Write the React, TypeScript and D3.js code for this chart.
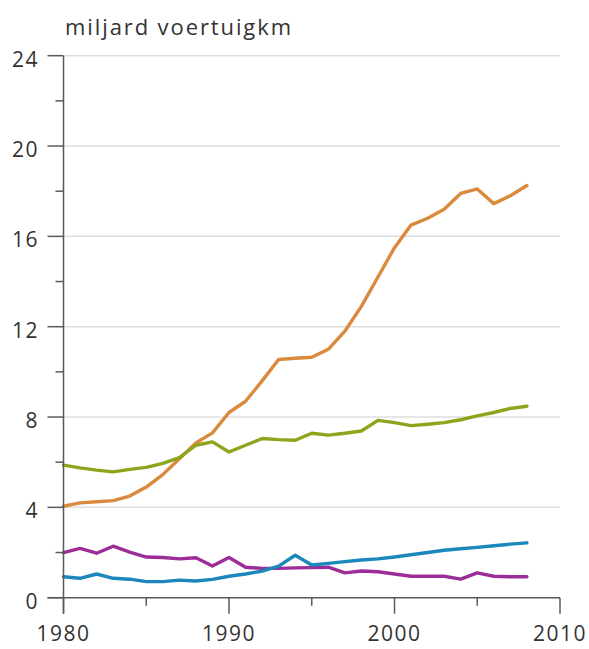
import * as d3 from 'd3';

// jaren en waarden (miljard voertuigkm)
const years = d3.range(1980, 2009);

const orangeSeries = [
  4.05, 4.2, 4.25, 4.3, 4.5, 4.9, 5.45, 6.15, 6.85, 7.3,
  8.2, 8.7, 9.6, 10.55, 10.6, 10.65, 11.0, 11.8, 12.9, 14.2,
  15.5, 16.5, 16.8, 17.2, 17.9, 18.1, 17.45, 17.8, 18.25,
];
const greenSeries = [
  5.87, 5.75, 5.65, 5.57, 5.68, 5.77, 5.95, 6.2, 6.75, 6.9,
  6.45, 6.75, 7.05, 7.0, 6.97, 7.28, 7.2, 7.28, 7.38, 7.85,
  7.75, 7.62, 7.68, 7.75, 7.88, 8.05, 8.2, 8.38, 8.48,
];
const purpleSeries = [
  2.0, 2.18, 1.97, 2.28, 2.02, 1.8, 1.78, 1.72, 1.77, 1.4,
  1.78, 1.35, 1.3, 1.3, 1.32, 1.33, 1.35, 1.1, 1.18, 1.15,
  1.05, 0.95, 0.95, 0.95, 0.82, 1.1, 0.95, 0.93, 0.93,
];
const blueSeries = [
  0.93, 0.86, 1.05, 0.86, 0.82, 0.71, 0.71, 0.78, 0.74, 0.81,
  0.95, 1.05, 1.18, 1.4, 1.88, 1.45, 1.52, 1.6, 1.67, 1.72,
  1.8, 1.9, 2.0, 2.1, 2.17, 2.23, 2.3, 2.37, 2.43,
];

const series = [
  { name: 'oranje', values: orangeSeries, color: '#d98a3c' },
  { name: 'groen', values: greenSeries, color: '#8da51c' },
  { name: 'paars', values: purpleSeries, color: '#9b2d99' },
  { name: 'blauw', values: blueSeries, color: '#1b87bd' },
];

const yTicks = [0, 4, 8, 12, 16, 20, 24];
const yMinorTicks = [2, 6, 10, 14, 18, 22];
const xTicks = [1980, 1990, 2000, 2010];
const xMinorTicks = [1985, 1995, 2005];

const W = 589;
const H = 649;
const FONT = '"Open Sans", sans-serif';

export default function App() {
  const x = d3.scaleLinear().domain([1980, 2010]).range([63.5, 560]);
  const y = d3.scaleLinear().domain([0, 24]).range([597.7, 55.7]);

  const line = d3
    .line<number>()
    .x((_, i) => x(years[i]))
    .y((d) => y(d));

  const axisColor = '#5a5a5a';

  return (
    <svg
      width={W}
      height={H}
      style={{ position: 'absolute', left: 0, top: 0, background: '#fff' }}
    >
      {/* gridlijnen */}
      {yTicks.filter((t) => t > 0).map((t) => (
        <line key={'g' + t} x1={x(1980)} x2={x(2010)} y1={y(t)} y2={y(t)}
          stroke="#dedede" strokeWidth={1.5} />
      ))}

      {/* lijnen */}
      {series.map((s) => (
        <path key={s.name} d={line(s.values) || ''} fill="none" stroke={s.color}
          strokeWidth={3.4} strokeLinejoin="round" strokeLinecap="round" />
      ))}

      {/* y-as */}
      <line x1={x(1980)} x2={x(1980)} y1={y(24)} y2={y(0) + 16} stroke={axisColor} strokeWidth={1.5} />
      {yTicks.map((t) => (
        <line key={'yt' + t} x1={x(1980) - 16} x2={x(1980)} y1={y(t)} y2={y(t)} stroke={axisColor} strokeWidth={1.5} />
      ))}
      {yMinorTicks.map((t) => (
        <line key={'ym' + t} x1={x(1980) - 8} x2={x(1980)} y1={y(t)} y2={y(t)} stroke={axisColor} strokeWidth={1.5} />
      ))}
      {yTicks.map((t) => (
        <text key={'yl' + t} x={39} y={y(t) + 11} textAnchor="end" fontFamily={FONT}
          fontSize={21} fill="#333" letterSpacing={1.5}>{t}</text>
      ))}

      {/* x-as */}
      <line x1={x(1980) - 16} x2={x(2010)} y1={y(0)} y2={y(0)} stroke={axisColor} strokeWidth={1.5} />
      {xTicks.map((t) => (
        <line key={'xt' + t} x1={x(t)} x2={x(t)} y1={y(0)} y2={y(0) + 16} stroke={axisColor} strokeWidth={1.5} />
      ))}
      {xMinorTicks.map((t) => (
        <line key={'xm' + t} x1={x(t)} x2={x(t)} y1={y(0)} y2={y(0) + 8} stroke={axisColor} strokeWidth={1.5} />
      ))}
      {xTicks.map((t) => (
        <text key={'xl' + t} x={x(t)} y={641} textAnchor="middle" fontFamily={FONT}
          fontSize={21} fill="#333" letterSpacing={1.5}>{t}</text>
      ))}

      {/* eenheid */}
      <text x={65} y={35} fontFamily={FONT} fontSize={22} fill="#333" letterSpacing={1.9}>
        miljard voertuigkm
      </text>
    </svg>
  );
}
